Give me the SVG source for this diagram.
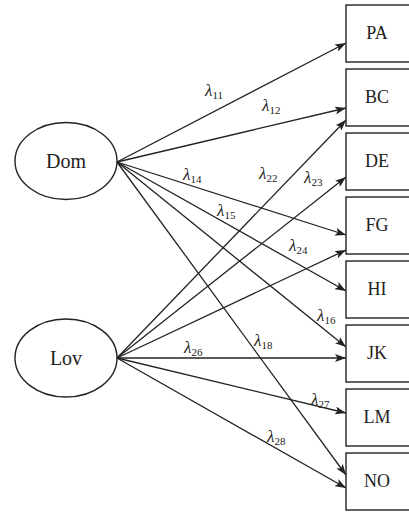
<svg xmlns="http://www.w3.org/2000/svg" width="409" height="513" viewBox="0 0 409 513">
<style>
.box{fill:#fff;stroke:#222;stroke-width:1.4}
.ell{fill:#fff;stroke:#222;stroke-width:1.4}
.lbl{font-family:"Liberation Serif","Times New Roman",serif;font-size:18px;fill:#222;text-anchor:middle}
.big{font-size:20px}
.lam{font-family:"Liberation Serif","Times New Roman",serif;font-size:17px;font-style:italic;fill:#222}
.sub{font-size:11px;font-style:normal}
.edge{stroke:#222;stroke-width:1.3;fill:none;marker-end:url(#ah)}
</style>
<defs>
<marker id="ah" markerUnits="userSpaceOnUse" markerWidth="12" markerHeight="8" refX="11" refY="4" orient="auto">
<path d="M0,0 L11,4 L0,8 L2.5,4 z" fill="#222"/>
</marker>
</defs>
<rect width="409" height="513" fill="#fff"/>
<g id="edges">
<line class="edge" x1="117" y1="162" x2="346" y2="43"/>
<line class="edge" x1="117" y1="162" x2="346" y2="108"/>
<line class="edge" x1="117" y1="162" x2="346" y2="235"/>
<line class="edge" x1="117" y1="162" x2="346" y2="291"/>
<line class="edge" x1="117" y1="162" x2="346" y2="347"/>
<line class="edge" x1="117" y1="162" x2="346" y2="475"/>
<line class="edge" x1="117" y1="358" x2="346" y2="120"/>
<line class="edge" x1="117" y1="358" x2="346" y2="177"/>
<line class="edge" x1="117" y1="358" x2="346" y2="250"/>
<line class="edge" x1="117" y1="358" x2="346" y2="358"/>
<line class="edge" x1="117" y1="358" x2="346" y2="413"/>
<line class="edge" x1="117" y1="358" x2="346" y2="488"/>
</g>
<g id="labels">
<text class="lam" x="205" y="96">λ<tspan class="sub" dy="3">11</tspan></text>
<text class="lam" x="262" y="111">λ<tspan class="sub" dy="3">12</tspan></text>
<text class="lam" x="183" y="180">λ<tspan class="sub" dy="3">14</tspan></text>
<text class="lam" x="259" y="179">λ<tspan class="sub" dy="3">22</tspan></text>
<text class="lam" x="304" y="183">λ<tspan class="sub" dy="3">23</tspan></text>
<text class="lam" x="217" y="216">λ<tspan class="sub" dy="3">15</tspan></text>
<text class="lam" x="289" y="251">λ<tspan class="sub" dy="3">24</tspan></text>
<text class="lam" x="317" y="321">λ<tspan class="sub" dy="3">16</tspan></text>
<text class="lam" x="254" y="346">λ<tspan class="sub" dy="3">18</tspan></text>
<text class="lam" x="184" y="353">λ<tspan class="sub" dy="3">26</tspan></text>
<text class="lam" x="311" y="405">λ<tspan class="sub" dy="3">27</tspan></text>
<text class="lam" x="267" y="442">λ<tspan class="sub" dy="3">28</tspan></text>
</g>
<g id="Dom"><ellipse class="ell" cx="66" cy="161" rx="51" ry="38.5"/><text class="lbl big" x="66" y="168">Dom</text></g>
<g id="Lov"><ellipse class="ell" cx="66" cy="358" rx="51" ry="39"/><text class="lbl big" x="66" y="365">Lov</text></g>
<g id="PA"><rect class="box" x="346" y="5" width="80" height="57"/><text class="lbl" x="377" y="39">PA</text></g>
<g id="BC"><rect class="box" x="346" y="69" width="80" height="57"/><text class="lbl" x="377" y="103">BC</text></g>
<g id="DE"><rect class="box" x="346" y="133" width="80" height="57"/><text class="lbl" x="377" y="167">DE</text></g>
<g id="FG"><rect class="box" x="346" y="197" width="80" height="57"/><text class="lbl" x="377" y="231">FG</text></g>
<g id="HI"><rect class="box" x="346" y="261" width="80" height="57"/><text class="lbl" x="377" y="295">HI</text></g>
<g id="JK"><rect class="box" x="346" y="325" width="80" height="57"/><text class="lbl" x="377" y="359">JK</text></g>
<g id="LM"><rect class="box" x="346" y="389" width="80" height="57"/><text class="lbl" x="377" y="423">LM</text></g>
<g id="NO"><rect class="box" x="346" y="453" width="80" height="57"/><text class="lbl" x="377" y="487">NO</text></g>
</svg>
